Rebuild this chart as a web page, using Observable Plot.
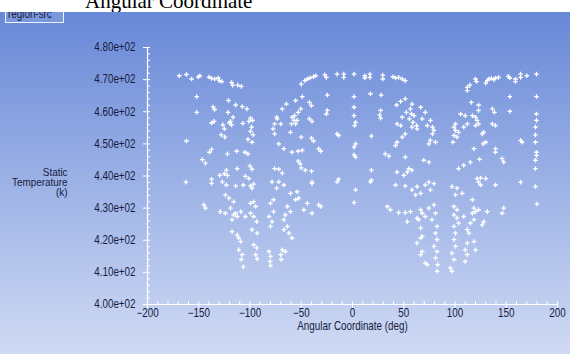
<!DOCTYPE html>
<html>
<head>
<meta charset="utf-8">
<script src="https://cdn.jsdelivr.net/npm/d3@7"></script>
<script src="https://cdn.jsdelivr.net/npm/@observablehq/plot@0.6"></script>
<style>
  html, body { margin: 0; padding: 0; }
  body { width: 570px; height: 354px; overflow: hidden; position: relative; background: #fff; }
  #bg { position: absolute; left: 0; top: 12px; width: 570px; height: 342px;
        background: linear-gradient(#6888d8, #9cb2e6 50%, #d0daf4); }
  #title { position: absolute; left: 0; top: 0; width: 570px; height: 12px; background: #fff; overflow: hidden; }
  #title span { position: absolute; left: 85px; top: -10px; line-height: 22px; white-space: nowrap;
        font-family: "Liberation Serif", "DejaVu Serif", serif; font-size: 21px; color: #000; }
  #legend { position: absolute; left: 5px; top: 12px; width: 57px; height: 10px; overflow: hidden;
        border: 1px solid #eef2ff; border-top: none; background: #7b98df; }
  #legend span { position: absolute; left: 2px; top: -4px; line-height: 12px; white-space: nowrap;
        font-family: "Liberation Sans", Arial, sans-serif; font-size: 12px; color: #141a3a;
        transform: scaleX(0.82); transform-origin: 0 0; }
  #chart { position: absolute; left: 0; top: 0; }
</style>
</head>
<body>
<div id="bg"></div>
<div id="title"><span>Angular Coordinate</span></div>
<div id="legend"><span>region-src</span></div>
<div id="chart"></div>
<script>
// [angle (deg), static temperature (K)]
const upperLeft = [[-169,471.2],[-162,471.6],[-157,470.2],[-150.5,470.8],[-149,471.2],[-140,470.8],[-137.5,470.4],[-134.5,470.2],[-131,470.5],[-130,469.7],[-127.5,469.4],[-118,469.1],[-117,468.3],[-112,468.3],[-108.5,467.9],[-152,464.7],[-152,459.8],[-162,450.9],[-136,461.5],[-134.5,460.7],[-135,457.0],[-137.5,456.5],[-121,463.5],[-114,462.1],[-107.5,461.6],[-103,460.9],[-121.5,459.8],[-116.5,458.3],[-119,457.0],[-118,455.9],[-120,456.5],[-126.5,455.9],[-125,454.7],[-128,452.8],[-124.5,452.1],[-107,456.4],[-101,457.0],[-99.5,458.0],[-97.5,457.3],[-98.5,455.2],[-99.5,453.9],[-97,452.8],[-102,451.4],[-98,450.5],[-137.5,448.3],[-139.5,447.4],[-146.5,445.1],[-143.5,444.0],[-122,446.9],[-113,447.7],[-105,447.4],[-102,446.9],[-100,443.1],[-98,442.1],[-112.5,442.3],[-123,441.8],[-125,440.7],[-129.5,440.2],[-122,440.2],[-104.5,439.9],[-101,439.2],[-137.5,439.0],[-162.5,438.1],[-73.5,457.8],[-76,456.2],[-77.5,454.7],[-76,453.1],[-70,456.2],[-74,458.3],[-68.5,460.9],[-64.5,462.4],[-72,450.0],[-67,448.5],[-76,442.3],[-72,442.1],[-68.5,440.9]];

const upperMid = [[-50,468.6],[-46.5,469.7],[-44,470.2],[-41.5,470.5],[-38,470.9],[-36,471.2],[-27,471.5],[-25.5,470.7],[-15,471.7],[-8.5,471.7],[-8.5,470.7],[1.5,471.7],[12,471.2],[12,470.5],[17,471.7],[17,470.7],[29.5,471.4],[29.5,470.2],[39.5,470.9],[42,470.5],[45,470.7],[48.5,470.2],[51.5,469.7],[-24.5,465.2],[1.5,464.7],[28,465.2],[-49,464.7],[-55.5,463.5],[-42,462.9],[-40,461.9],[-50.5,460.9],[-53,459.8],[-56.5,458.8],[-59,458.3],[-57,457.3],[-54,457.3],[-59.5,456.2],[-55.5,456.2],[-42,457.8],[-39.5,457.0],[-60.5,453.6],[-50,452.1],[-40,451.8],[-38,450.9],[-24.5,460.4],[-25.5,459.3],[1.5,461.4],[1.5,458.8],[3,456.7],[2,455.7],[27.5,460.4],[26.5,459.0],[-15,453.1],[-13.5,452.6],[18.5,452.4],[3,450.0],[1.5,449.0],[-33,448.5],[-31,447.7],[-59,447.4],[-53,447.7],[-49,448.0],[-53,444.6],[-51,443.8],[-50,442.5],[-46,441.8],[-40,441.5],[3,445.9],[1.5,446.6],[-39.5,438.1],[-13.5,439.0],[18.5,438.7],[32,446.9],[35.5,446.2],[42,449.5],[43.5,450.5],[43,462.1],[47,463.2],[51.5,464.0],[58,462.4],[56.5,460.9],[52.5,459.8],[57.5,459.3],[60,458.8],[55.5,457.8],[59,456.7],[62.5,455.7],[63,454.7],[48.5,458.3],[47,455.7],[43.5,456.2],[58,455.2],[51.5,453.1],[48.5,452.1],[51.5,445.9],[55,442.3],[58,441.8],[53.5,441.2],[50,440.2],[43.5,441.2],[17.5,465.6],[27.5,458.0],[18.5,441.8]];

const upperRight = [[112,467.6],[112,466.6],[114.5,468.3],[120,470.2],[121,469.4],[130,468.9],[131.5,469.7],[133,470.2],[135.5,470.4],[138,470.0],[139.5,470.5],[142.5,470.7],[152,471.0],[153.5,470.5],[159,470.2],[159,469.4],[164,471.7],[164,470.7],[170,471.2],[179.5,471.7],[153.5,464.7],[153.5,460.1],[179.5,464.7],[179.5,459.3],[179.5,457.3],[178.5,455.2],[178.5,452.8],[178.5,450.5],[179.5,447.4],[179.5,446.4],[178.5,444.9],[164,451.1],[165.5,450.5],[116,462.9],[123,462.1],[105.5,459.3],[110,458.8],[117,458.8],[120,458.3],[121.5,457.3],[123,456.2],[120,455.7],[123,460.4],[136.5,460.9],[138.5,459.8],[136.5,456.2],[139.5,455.7],[128,453.6],[126.5,453.1],[130,450.5],[127.5,450.0],[118.5,448.5],[139.5,448.5],[139.5,447.4],[146,445.4],[147.5,444.3],[124,445.2],[115,444.3],[108.5,443.3],[103.5,442.3],[100.5,456.2],[99,455.2],[100.5,454.2],[103.5,453.6],[99,452.6],[98,450.5],[102,452.1],[112,456.2],[108.5,455.2],[66.5,461.4],[71,459.8],[68,457.8],[76,457.3],[73,455.7],[78,455.2],[79.5,454.2],[78,453.1],[81,450.5],[76,451.1],[74.5,450.0],[69.5,444.9],[74.5,444.3],[74.5,438.1],[79.5,437.6],[121.5,439.2],[125,439.4],[130,439.2],[123,438.1],[164,438.1],[178.5,442.3]];

const lowerLeft = [[-145,431.0],[-143.5,430.0],[-137.5,437.7],[-127,438.2],[-123,437.2],[-114,436.9],[-106.5,437.2],[-99.5,436.9],[-96.5,437.5],[-98,436.2],[-124,434.1],[-120.5,433.1],[-116,432.0],[-129,428.9],[-124,428.4],[-119,430.0],[-114,428.4],[-112.5,427.4],[-116,427.9],[-117.5,426.4],[-109,428.9],[-104.5,427.4],[-99.5,431.5],[-96.5,432.0],[-94.5,430.5],[-99.5,428.4],[-96.5,427.4],[-93.5,425.8],[-98,423.3],[-93,422.2],[-117.5,422.7],[-112.5,421.7],[-111,420.7],[-109,419.6],[-111,417.0],[-107.5,415.5],[-108.5,414.0],[-106.5,411.7],[-96.5,418.6],[-93.5,417.6],[-94.5,415.5],[-93,414.2],[-81.5,416.5],[-80,415.0],[-80.5,413.4],[-80,412.1],[-68.5,417.0],[-65.5,416.5],[-70,415.5],[-69.5,414.0],[-80,424.3],[-78.5,425.8],[-81.5,427.4],[-77,428.9],[-80,431.5],[-77,432.6],[-74,436.2],[-78.5,438.2],[-72,438.2],[-67,437.2],[-63.5,430.5],[-60.5,428.9],[-65.5,427.9],[-67,426.4],[-63.5,424.3],[-67,423.3],[-62,422.2],[-59,420.7],[-54,435.1],[-60.5,434.6],[-55.5,432.6],[-52.5,433.1],[-47.5,429.5],[-44,431.5],[-39.5,428.4],[-33,431.0],[-31,430.5],[-39.5,437.7],[-15,438.2]];

const lowerRight = [[3,435.7],[1.5,431.7],[17.5,438.2],[42,437.2],[51.5,436.9],[58,435.7],[63,436.7],[66.5,434.6],[71,437.2],[76,435.7],[61.5,434.1],[34,430.5],[37,429.5],[45,428.6],[51.5,428.6],[56.5,428.9],[53.5,425.8],[63,426.9],[66.5,429.5],[68,428.4],[64.5,426.4],[71,427.4],[74.5,430.0],[79.5,431.0],[81,428.4],[77.5,426.4],[82.5,424.3],[81,422.2],[82.5,420.2],[79.5,418.1],[82.5,416.5],[81,414.5],[83,412.4],[82.5,410.3],[66.5,423.8],[68,421.2],[66.5,420.7],[63,419.1],[68,416.5],[66.5,415.5],[71,412.9],[73,412.4],[97,436.7],[102,436.2],[100.5,434.1],[99,430.5],[102,429.5],[99,427.9],[102,426.9],[103.5,425.3],[99,424.3],[100.5,422.2],[99,420.2],[100.5,418.1],[97,416.0],[99,414.0],[95.5,411.4],[97,410.3],[107,434.6],[108.5,427.4],[112,423.3],[113.5,422.2],[112,419.1],[110,417.0],[112,415.5],[110,413.4],[117,432.6],[118.5,430.0],[117,428.4],[120,428.9],[123,429.5],[118.5,426.4],[115,425.3],[118.5,419.6],[120,417.0],[125,437.2],[131.5,428.9],[128,425.8],[126.5,424.8],[139.5,437.2],[147.5,430.0],[146,428.4],[178.5,436.7],[180,431.3]];

const xTicks = [-200, -150, -100, -50, 0, 50, 100, 150, 200];
const yTicks = [400, 410, 420, 430, 440, 450, 460, 470, 480];
const yTickLabels = ["4.00e+02","4.10e+02","4.20e+02","4.30e+02","4.40e+02","4.50e+02","4.60e+02","4.70e+02","4.80e+02"];
const xTitle = "Angular Coordinate (deg)";
const yTitle = "Static\nTemperature\n(k)";

const points = [...upperLeft, ...upperMid, ...upperRight, ...lowerLeft, ...lowerRight];
const font = '"Liberation Sans", Arial, sans-serif';
const ink = "#161a3c";

const chart = Plot.plot({
  width: 570,
  height: 354,
  marginLeft: 147,
  marginRight: 13,
  marginTop: 47,
  marginBottom: 50,
  style: { background: "transparent", color: ink, fontFamily: font, fontSize: "12px" },
  x: { domain: [-200, 200] },
  y: { domain: [400, 480] },
  marks: [
    Plot.axisY({ ticks: yTicks, tickFormat: d => yTickLabels[yTicks.indexOf(d)], tickSize: 4, tickPadding: 8, stroke: "white", fill: ink, label: null, fontSize: 12 }),
    Plot.axisY({ ticks: d3.range(400, 481, 2), tickSize: -3, text: null, stroke: "white", label: null }),
    Plot.axisX({ ticks: xTicks, tickSize: 4, tickPadding: 0, stroke: "white", fill: ink, label: null, fontSize: 12 }),
    Plot.axisX({ ticks: d3.range(-200, 201, 10), tickSize: -3, text: null, stroke: "white", label: null }),
    Plot.ruleX([-200], { stroke: "white", strokeWidth: 1.2 }),
    Plot.ruleY([400], { stroke: "white", strokeWidth: 1.2 }),
    Plot.dot(points, { x: d => d[0], y: d => d[1], symbol: "plus", r: 1.6, stroke: "white", strokeWidth: 1.3, fill: "none" }),
    Plot.text([xTitle], { frameAnchor: "bottom", dy: 25, fill: ink, fontSize: 12 }),
    Plot.text([yTitle], { frameAnchor: "left", dx: -80, dy: 6.5, textAnchor: "end", lineHeight: 0.92, fill: ink, fontSize: 11 })
  ]
});
document.getElementById("chart").appendChild(chart);

// condense all texts horizontally (narrow sans look), anchored at their text-anchor
chart.querySelectorAll("text").forEach(t => {
  const anchor = getComputedStyle(t).textAnchor;
  const b = t.getBBox();
  const ax = anchor === "end" ? b.x + b.width : anchor === "middle" ? b.x + b.width / 2 : b.x;
  const k = t.textContent.includes("Temperature") ? 0.9 : 0.82;
  const prev = t.getAttribute("transform") || "";
  t.setAttribute("transform", `${prev} translate(${ax},0) scale(${k},1) translate(${-ax},0)`);
});
</script>
</body>
</html>
